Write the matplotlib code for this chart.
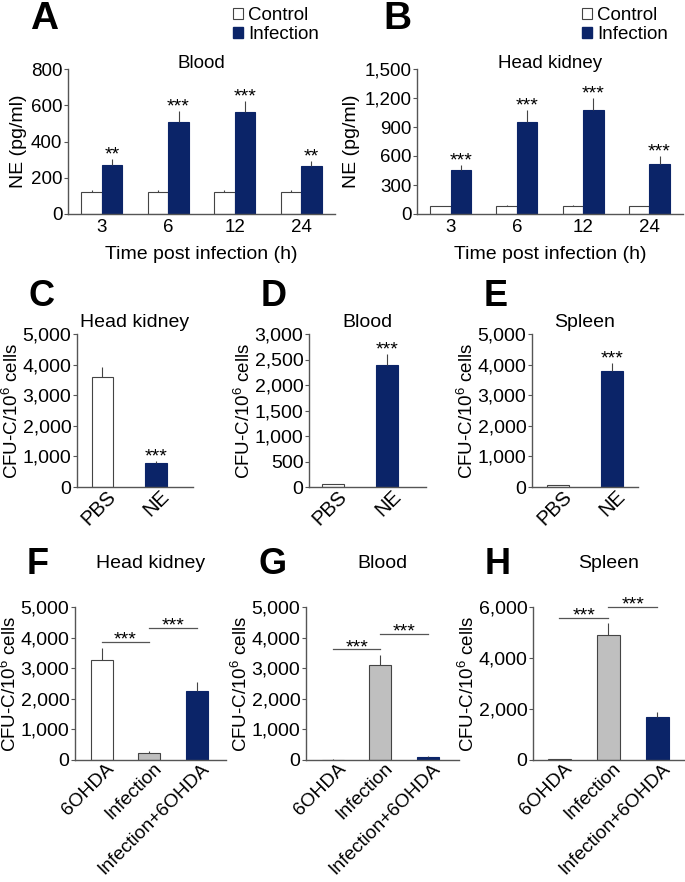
import matplotlib
matplotlib.use("Agg")
import matplotlib.pyplot as plt
import matplotlib.transforms as mtransforms
from matplotlib.patches import Patch
from matplotlib.ticker import FuncFormatter
import numpy as np

plt.rcParams['font.family'] = ['Liberation Sans', 'DejaVu Sans']
plt.rcParams['mathtext.fontset'] = 'custom'
plt.rcParams['mathtext.rm'] = 'Liberation Sans'
plt.rcParams['mathtext.it'] = 'Liberation Sans:italic'

NAVY = '#0b2468'
GRAY = '#bfbfbf'
EDGE = '#444444'
W, H = 685, 882

# --- data -------------------------------------------------------------
hours = ['3', '6', '12', '24']

blood_ctrl = [121, 121, 123, 121]
blood_ctrl_err = [14, 12, 12, 12]
blood_inf = [270, 505, 561, 263]
blood_inf_err = [33, 65, 60, 31]
blood_sig = ['**', '***', '***', '**']

hk_ctrl = [79, 80, 80, 79]
hk_ctrl_err = [8, 8, 8, 8]
hk_inf = [452, 952, 1072, 521]
hk_inf_err = [51, 127, 125, 76]
hk_sig = ['***', '***', '***', '***']

ne_groups = ['PBS', 'NE']
ne_titles = ['Head kidney', 'Blood', 'Spleen']
ne_vals = [[3587, 770], [59, 2394], [65, 3793]]
ne_errs = [[350, 80], [8, 215], [8, 250]]
ne_ymax = [5000, 3000, 5000]
ne_ystep = [1000, 500, 1000]
ne_sig = [1, 1, 1]  # index of bar with ***

ohda_groups = ['6OHDA', 'Infection', 'Infection+6OHDA']
ohda_titles = ['Head kidney', 'Blood', 'Spleen']
ohda_vals = [[3275, 240, 2260], [15, 3100, 109], [20, 4913, 1690]]
ohda_errs = [[370, 40, 285], [5, 340, 10], [5, 460, 200]]
ohda_ymax = [5000, 5000, 6000]
ohda_ystep = [1000, 1000, 2000]
ohda_brackets = [[3865, 4323], [3624, 4116], [5583, 6002]]


def rect(l, r, t, b):
    return [l / W, 1 - b / H, (r - l) / W, (b - t) / H]


def style(ax, ymax, step, ysize):
    for s in ['top', 'right']:
        ax.spines[s].set_visible(False)
    for s in ['left', 'bottom']:
        ax.spines[s].set_color('#555555')
        ax.spines[s].set_linewidth(1.0)
    ax.set_ylim(0, ymax)
    ax.set_yticks(np.arange(0, ymax + 1, step))
    ax.yaxis.set_major_formatter(FuncFormatter(lambda v, p: '{:,.0f}'.format(v)))
    ax.tick_params(axis='y', length=3, width=0.8, color='#555555',
                   labelsize=ysize, pad=1)
    ax.tick_params(axis='x', length=0, labelsize=13.5)


def slant(ax, size):
    ax.tick_params(axis='x', labelsize=size, pad=0)
    shift = mtransforms.ScaledTranslation(4 / 100, 0, fig.dpi_scale_trans)
    for t in ax.get_xticklabels():
        t.set_rotation(45)
        t.set_ha('right')
        t.set_rotation_mode('anchor')
        t.set_transform(t.get_transform() + shift)


fig = plt.figure(figsize=(W / 100, H / 100), dpi=100)

# --- A and B: time course --------------------------------------------
tc = [('A', 'Blood', blood_ctrl, blood_ctrl_err, blood_inf, blood_inf_err,
       blood_sig, 800, 200, (68, 335), 38),
      ('B', 'Head kidney', hk_ctrl, hk_ctrl_err, hk_inf, hk_inf_err,
       hk_sig, 1500, 300, (417, 683), 34)]
for letter, title, c, ce, v, ve, sig, ymax, step, (l, r), lx in tc:
    ax = fig.add_axes(rect(l, r, 69, 214))
    x = np.arange(len(hours))
    bw = 0.31
    ax.bar(x - bw / 2, c, bw, color='white', edgecolor=EDGE, linewidth=0.8)
    ax.bar(x + bw / 2, v, bw, color=NAVY, edgecolor=NAVY, linewidth=0.8)
    ax.errorbar(x - bw / 2, c, yerr=[np.zeros(len(c)), ce], fmt='none',
                ecolor=EDGE, elinewidth=0.8, capsize=0)
    ax.errorbar(x + bw / 2, v, yerr=[np.zeros(len(v)), ve], fmt='none',
                ecolor=EDGE, elinewidth=0.8, capsize=0)
    for xi, vi, ei, s in zip(x, v, ve, sig):
        ax.text(xi + bw / 2, vi + ei - ymax * 0.03, s, ha='center',
                va='bottom', fontsize=14)
    ax.set_xlim(-0.51, 3.51)
    ax.set_xticks(x)
    ax.set_xticklabels(hours)
    style(ax, ymax, step, 13.5)
    fig.text((l + r) / 2 / W, 1 - 63 / H, title, fontsize=13.5,
             ha='center', va='center')
    ax.set_xlabel('Time post infection (h)', fontsize=14, labelpad=7)
    ax.set_ylabel('NE (pg/ml)', fontsize=14, labelpad=3)
    fig.text((l - lx) / W, 1 - 19 / H, letter, fontsize=28,
             fontweight='bold', va='center', ha='left')
    fig.legend(handles=[Patch(facecolor='white', edgecolor=EDGE, linewidth=0.8),
                        Patch(facecolor=NAVY, edgecolor=NAVY)],
               labels=['Control', 'Infection'], loc='upper left',
               bbox_to_anchor=((l + 165) / W, 1 - 7 / H), frameon=False,
               fontsize=13.5, handlelength=0.55, handleheight=0.55,
               handletextpad=0.25, labelspacing=0.1, borderaxespad=0,
               borderpad=0)

# --- C, D, E: NE treatment -------------------------------------------
ne_pos = [(77, 193), (309, 426), (532, 638)]
ne_xlim = [(-0.477, 1.695), (-0.44, 1.715), (-0.476, 1.485)]
for i, (letter, (l, r)) in enumerate(zip('CDE', ne_pos)):
    ax = fig.add_axes(rect(l, r, 334, 487))
    x = np.arange(len(ne_groups))
    cols = ['white', NAVY]
    edges = [EDGE, NAVY]
    ax.bar(x, ne_vals[i], 0.41, color=cols, edgecolor=edges, linewidth=0.8)
    ax.errorbar(x, ne_vals[i], yerr=[np.zeros(2), ne_errs[i]], fmt='none',
                ecolor=EDGE, elinewidth=0.8, capsize=0)
    k = ne_sig[i]
    ax.text(x[k], ne_vals[i][k] + ne_errs[i][k] - ne_ymax[i] * 0.03, '***',
            ha='center', va='bottom', fontsize=14)
    ax.set_xlim(*ne_xlim[i])
    ax.set_xticks(x)
    ax.set_xticklabels(ne_groups)
    style(ax, ne_ymax[i], ne_ystep[i], 14)
    slant(ax, 14.5)
    ax.set_title(ne_titles[i], fontsize=14, pad=5)
    ax.set_ylabel('CFU-C/10$^6$ cells', fontsize=13.5)
    ax.yaxis.set_label_coords(-55 / (r - l), 0.5)
    fig.text((l - 48) / W, 1 - 296 / H, letter, fontsize=26,
             fontweight='bold', va='center', ha='left')

# --- F, G, H: 6OHDA --------------------------------------------------
oh_pos = [(75, 226), (306, 459), (533, 685)]
oh_xlim = [(-0.56, 2.62), (-0.574, 2.665), (-0.54, 2.57)]
for i, (letter, (l, r)) in enumerate(zip('FGH', oh_pos)):
    ax = fig.add_axes(rect(l, r, 607, 760))
    x = np.arange(len(ohda_groups))
    cols = ['white', GRAY, NAVY]
    edges = [EDGE, EDGE, NAVY]
    ax.bar(x, ohda_vals[i], 0.465, color=cols, edgecolor=edges, linewidth=0.8)
    ax.errorbar(x, ohda_vals[i], yerr=[np.zeros(3), ohda_errs[i]], fmt='none',
                ecolor=EDGE, elinewidth=0.8, capsize=0)
    for j, yb in enumerate(ohda_brackets[i]):
        ax.plot([x[j], x[j + 1]], [yb, yb], color='#555555', lw=0.9,
                clip_on=False)
        ax.text((x[j] + x[j + 1]) / 2, yb - ohda_ymax[i] * 0.045, '***',
                ha='center', va='bottom', fontsize=14)
    ax.set_xlim(*oh_xlim[i])
    ax.set_xticks(x)
    ax.set_xticklabels(ohda_groups)
    style(ax, ohda_ymax[i], ohda_ystep[i], 14)
    slant(ax, 13.8)
    ax.set_ylabel('CFU-C/10$^6$ cells', fontsize=13.5)
    ax.yaxis.set_label_coords(-55 / (r - l), 0.5)
    fig.text((l + r) / 2 / W, 1 - 563 / H, ohda_titles[i], fontsize=14,
             ha='center', va='center')
    fig.text((l - 48) / W, 1 - 564 / H, letter, fontsize=26,
             fontweight='bold', va='center', ha='left')

fig.savefig('out.png', dpi=100)
